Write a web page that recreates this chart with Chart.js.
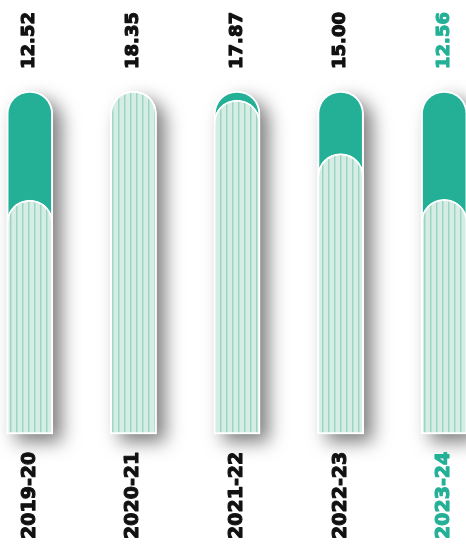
<!DOCTYPE html>
<html>
<head>
<meta charset="utf-8">
<script src="https://cdn.jsdelivr.net/npm/chart.js@4.4.1/dist/chart.umd.min.js"></script>
<style>
  html, body { margin: 0; padding: 0; background: #ffffff; overflow: hidden; }
  #wrap { position: absolute; left: -22px; top: 0; width: 518px; height: 546px; }
</style>
</head>
<body>
<div id="wrap"><canvas id="barChart"></canvas></div>
<script>
// --- Data ---
const years = ["2019-20", "2020-21", "2021-22", "2022-23", "2023-24"];
const values = [12.52, 18.35, 17.87, 15.00, 12.56];
const valueLabels = ["12.52", "18.35", "17.87", "15.00", "12.56"];
const trackMax = 18.35;

const TEAL = "#23b096";
const DARK = "#111111";

// striped light fill for the value bars
function makeStripes() {
    const c = document.createElement("canvas");
    c.width = 6; c.height = 4;
    const g = c.getContext("2d");
    g.fillStyle = "#d5ede5";
    g.fillRect(0, 0, 6, 4);
    g.fillStyle = "#9dd5c3";
    g.fillRect(2, 0, 1.5, 4);
    return g.createPattern(c, "repeat");
}

// drop shadow behind the tracks (bar element clips its own shadow, so draw it first)
const shadowPlugin = {
    id: "trackShadow",
    beforeDatasetsDraw(chart) {
        const ctx = chart.ctx;
        const meta = chart.getDatasetMeta(1);
        ctx.save();
        ctx.shadowColor = "rgba(0, 0, 0, 0.5)";
        ctx.shadowBlur = 18;
        ctx.shadowOffsetX = 9;
        ctx.shadowOffsetY = 8;
        ctx.fillStyle = "#ffffff";
        meta.data.forEach(bar => {
            const p = bar.getProps(["x", "y", "base", "width"], true);
            const l = p.x - p.width / 2, r = p.x + p.width / 2;
            const rad = p.width / 2;
            ctx.beginPath();
            ctx.moveTo(l, p.base);
            ctx.lineTo(l, p.y + rad);
            ctx.arc(p.x, p.y + rad, rad, Math.PI, 0);
            ctx.lineTo(r, p.base);
            ctx.closePath();
            ctx.fill();
        });
        ctx.restore();
    }
};

const labelPlugin = {
    id: "rotLabels",
    afterDraw(chart) {
        const ctx = chart.ctx;
        const xScale = chart.scales.x;
        const drawRot = (txt, x, y, font, col) => {
            ctx.save();
            ctx.translate(x, y);
            ctx.rotate(-Math.PI / 2);
            ctx.font = font;
            ctx.fillStyle = col;
            ctx.strokeStyle = col;
            ctx.lineWidth = 1.1;
            ctx.lineJoin = "round";
            ctx.textAlign = "left";
            ctx.textBaseline = "middle";
            ctx.fillText(txt, 0, 0);
            ctx.strokeText(txt, 0, 0);
            ctx.restore();
        };
        years.forEach((yr, i) => {
            const x = xScale.getPixelForValue(i);
            const col = i === years.length - 1 ? TEAL : DARK;
            drawRot(valueLabels[i], x, 69, "bold 18px 'DejaVu Sans'", col);
            drawRot(yr, x, 539, "bold 19px 'DejaVu Sans'", col);
        });
    }
};

const ctx = document.getElementById("barChart").getContext("2d");
const stripes = makeStripes();

new Chart(ctx, {
    type: "bar",
    data: {
        labels: years,
        datasets: [
            {
                label: "Value",
                data: values,
                backgroundColor: stripes,
                borderColor: "#ffffff",
                borderWidth: 2,
                borderSkipped: false,
                borderRadius: { topLeft: 23, topRight: 23, bottomLeft: 0, bottomRight: 0 },
                barThickness: 46,
                grouped: false,
                clip: false,
                order: 1
            },
            {
                label: "Track",
                data: years.map(() => trackMax),
                backgroundColor: TEAL,
                borderColor: "#ffffff",
                borderWidth: 2,
                borderSkipped: false,
                borderRadius: { topLeft: 23, topRight: 23, bottomLeft: 0, bottomRight: 0 },
                barThickness: 46,
                grouped: false,
                clip: false,
                order: 2
            }
        ]
    },
    options: {
        responsive: true,
        maintainAspectRatio: false,
        animation: false,
        layout: { padding: { top: 91, bottom: 112, left: 0, right: 0 } },
        plugins: {
            legend: { display: false },
            tooltip: { enabled: false }
        },
        scales: {
            x: { display: false, grid: { display: false } },
            y: { display: false, min: 0, max: trackMax, grid: { display: false } }
        }
    },
    plugins: [shadowPlugin, labelPlugin]
});
</script>
</body>
</html>
